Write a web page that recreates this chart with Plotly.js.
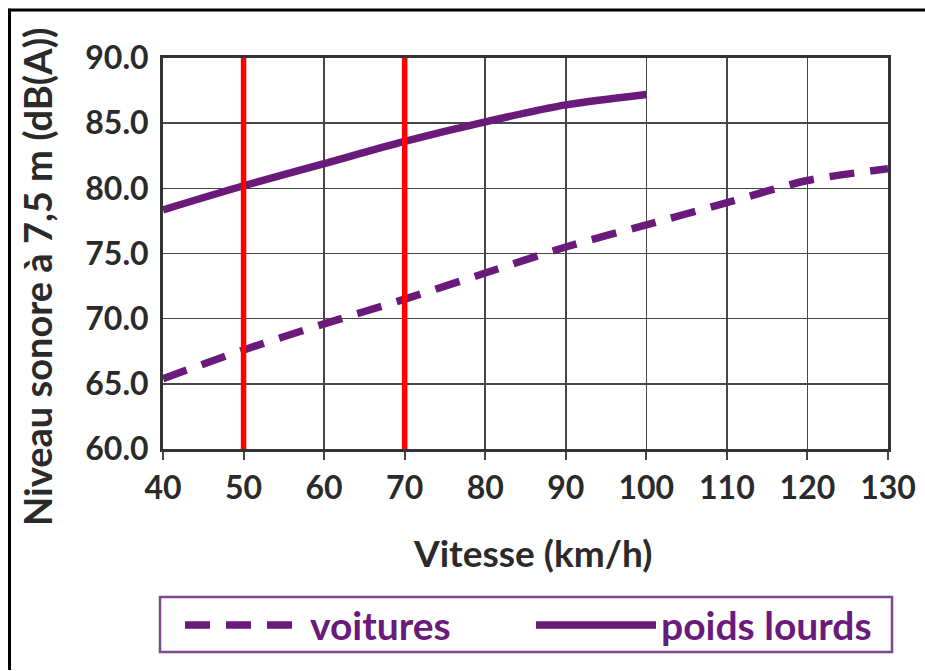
<!DOCTYPE html>
<html>
<head>
<meta charset="utf-8">
<script src="https://cdn.plot.ly/plotly-3.0.1.min.js"></script>
<style>
  html, body { margin: 0; padding: 0; background: #ffffff; }
  #chart { width: 925px; height: 671px; }
</style>
</head>
<body>
<div id="chart"></div>
<script>
// Vitesse (km/h)
const speedCars = [40, 50, 60, 70, 80, 90, 100, 110, 120, 130];
const speedTrucks = [40, 50, 60, 70, 80, 90, 100];

// Niveau sonore à 7,5 m (dB(A))
const levelCars = [65.4, 67.6, 69.6, 71.5, 73.5, 75.5, 77.2, 78.9, 80.6, 81.5];
const levelTrucks = [78.35, 80.2, 81.9, 83.6, 85.1, 86.4, 87.2];

// Limitations de vitesse repérées en rouge
const speedLimits = [50, 70];

const xTicks = [40, 50, 60, 70, 80, 90, 100, 110, 120, 130];
const yTicks = [60, 65, 70, 75, 80, 85, 90];

const purple = '#6a1a7a';
const font = 'Lato, "Open Sans", sans-serif';

const traces = [
  {
    name: 'voitures',
    x: speedCars, y: levelCars,
    mode: 'lines',
    legendwidth: 216,
    line: { color: purple, width: 7.5, dash: '25px,16px', shape: 'spline', smoothing: 0.8 }
  },
  {
    name: 'poids lourds',
    x: speedTrucks, y: levelTrucks,
    mode: 'lines',
    legendwidth: 216,
    line: { color: purple, width: 7.5, shape: 'spline', smoothing: 0.8 }
  }
];

speedLimits.forEach(v => {
  traces.push({
    x: [v, v], y: [yTicks[0], yTicks[yTicks.length - 1]],
    mode: 'lines',
    showlegend: false,
    hoverinfo: 'skip',
    line: { color: '#ff0000', width: 5.5 }
  });
});

// plot area in pixels: left 163, right 888, top 57.5, bottom 449.5
const plotL = 163, plotW = 725, plotB = 449.5, plotH = 392;
const px = x => (x - plotL) / plotW;
const py = y => (plotB - y) / plotH;

const layout = {
  width: 925, height: 671,
  margin: { l: 163, r: 37, t: 57.5, b: 221.5, autoexpand: false },
  paper_bgcolor: '#ffffff',
  plot_bgcolor: '#ffffff',
  font: { family: font, color: '#2a2a2a' },
  xaxis: {
    range: [40, 130],
    tickvals: xTicks,
    ticktext: xTicks.map(String),
    showgrid: true, gridcolor: '#474747', gridwidth: 1.6,
    showline: true, linecolor: '#333333', linewidth: 3, mirror: true,
    ticks: 'outside', ticklen: 8, tickwidth: 2, tickcolor: '#474747',
    ticklabelstandoff: 1,
    tickfont: { family: font, size: 32, weight: 700, color: '#2a2a2a' },
    zeroline: false, fixedrange: true
  },
  yaxis: {
    range: [60, 90],
    tickvals: yTicks,
    ticktext: yTicks.map(v => v.toFixed(1)),
    showgrid: true, gridcolor: '#474747', gridwidth: 1.6,
    showline: true, linecolor: '#333333', linewidth: 3, mirror: true,
    ticks: '',
    ticklabelstandoff: 5,
    tickfont: { family: font, size: 32, weight: 700, color: '#2a2a2a' },
    zeroline: false, fixedrange: true
  },
  showlegend: true,
  legend: {
    orientation: 'h',
    x: px(180), xanchor: 'left',
    y: py(626), yanchor: 'middle',
    borderwidth: 0,
    bgcolor: 'rgba(0,0,0,0)',
    font: { family: font, size: 39, weight: 700, color: purple },
    itemwidth: 120,
    entrywidthmode: 'pixels',
    valign: 'middle'
  },
  annotations: [
    {
      text: 'Niveau sonore à 7,5 m (dB(A))',
      xref: 'paper', yref: 'paper',
      x: px(37), y: py(277),
      xanchor: 'center', yanchor: 'middle',
      textangle: -90, showarrow: false,
      font: { family: font, size: 38, weight: 700, color: '#2a2a2a' }
    },
    {
      text: 'Vitesse (km/h)',
      xref: 'paper', yref: 'paper',
      x: px(532), y: py(553),
      xanchor: 'center', yanchor: 'middle',
      showarrow: false,
      font: { family: font, size: 37, weight: 700, color: '#2a2a2a' }
    }
  ],
  shapes: [
    // cadre extérieur (haut et gauche)
    { type: 'line', xref: 'paper', yref: 'paper', x0: px(8), x1: px(925), y0: py(9.5), y1: py(9.5),
      line: { color: '#000000', width: 3 } },
    { type: 'line', xref: 'paper', yref: 'paper', x0: px(9.5), x1: px(9.5), y0: py(8), y1: py(671),
      line: { color: '#000000', width: 3 } },
    // cadre de la légende
    { type: 'rect', xref: 'paper', yref: 'paper', x0: px(160), x1: px(892), y0: py(598), y1: py(653),
      line: { color: '#7d4a8c', width: 2.5 }, fillcolor: 'rgba(0,0,0,0)' }
  ]
};

Plotly.newPlot('chart', traces, layout, { displayModeBar: false, staticPlot: true });
</script>
</body>
</html>
